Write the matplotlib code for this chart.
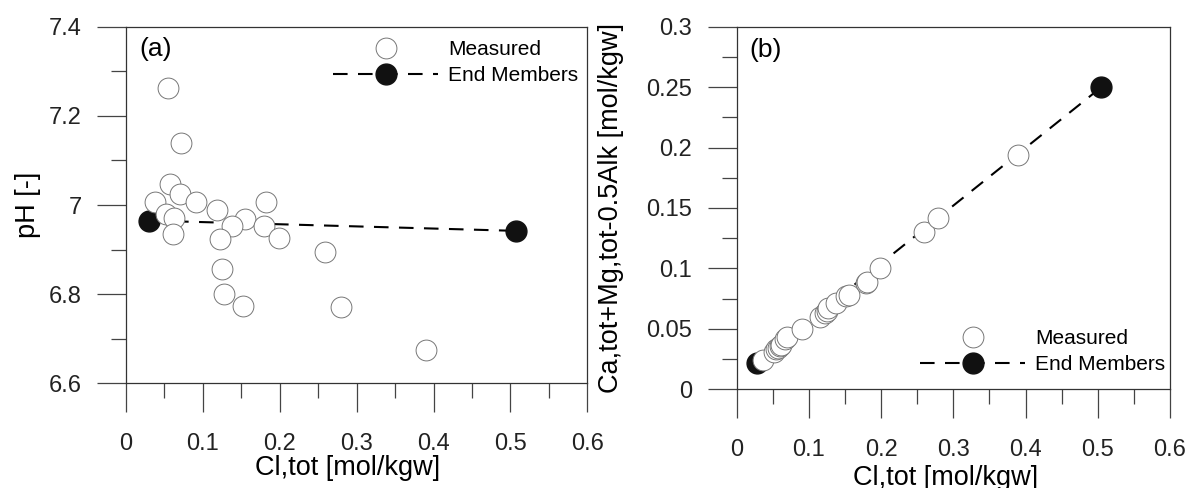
import matplotlib
matplotlib.use("Agg")
import matplotlib.pyplot as plt
from matplotlib.ticker import MultipleLocator

plt.rcParams["font.family"] = ["Liberation Sans", "DejaVu Sans"]

# Chloride concentration of each measured sample [mol/kgw]
cl_measured_a = [0.054, 0.071, 0.057, 0.070, 0.091, 0.038, 0.118, 0.182, 0.052, 0.062,
                 0.155, 0.138, 0.180, 0.061, 0.122, 0.199, 0.259, 0.125, 0.128, 0.152,
                 0.280, 0.390]
ph_measured = [7.262, 7.140, 7.048, 7.024, 7.006, 7.006, 6.989, 7.006, 6.979, 6.970,
               6.968, 6.953, 6.953, 6.936, 6.924, 6.925, 6.895, 6.856, 6.800, 6.774,
               6.771, 6.675]

# End members for panel (a)
cl_end_a = [0.030, 0.507]
ph_end = [6.965, 6.942]

# Panel (b): Ca,tot + Mg,tot - 0.5 Alk versus chloride
cl_measured_b = [0.037, 0.051, 0.054, 0.057, 0.060, 0.062, 0.067, 0.070, 0.090, 0.115,
                 0.122, 0.125, 0.127, 0.138, 0.152, 0.155, 0.179, 0.181, 0.198, 0.259,
                 0.279, 0.389]
camg_measured = [0.024, 0.031, 0.033, 0.034, 0.036, 0.037, 0.042, 0.043, 0.050, 0.060,
                 0.063, 0.065, 0.067, 0.071, 0.077, 0.078, 0.088, 0.089, 0.100, 0.130,
                 0.142, 0.194]
cl_end_b = [0.028, 0.505]
camg_end = [0.022, 0.250]

x_ticks = [0, 0.1, 0.2, 0.3, 0.4, 0.5, 0.6]
x_tick_labels = ["0", "0.1", "0.2", "0.3", "0.4", "0.5", "0.6"]
ph_ticks = [6.6, 6.8, 7.0, 7.2, 7.4]
ph_tick_labels = ["6.6", "6.8", "7", "7.2", "7.4"]
camg_ticks = [0, 0.05, 0.1, 0.15, 0.2, 0.25, 0.3]
camg_tick_labels = ["0", "0.05", "0.1", "0.15", "0.2", "0.25", "0.3"]

W, H = 1187, 488
fig = plt.figure(figsize=(W / 100, H / 100), dpi=100)

ax_a = fig.add_axes([126 / W, 1 - 383.3 / H, 461.3 / W, 356.6 / H])
ax_b = fig.add_axes([736.7 / W, 1 - 389.3 / H, 433.3 / W, 362.6 / H])

TICK_COLOR = "#444444"
TICK_SIZE = 17
AXLABEL_SIZE = 19.5
PANEL_SIZE = 19
LEGEND_SIZE = 15
MS = 15


def style_axes(ax):
    for sp in ax.spines.values():
        sp.set_linewidth(0.9)
        sp.set_color("#333333")
    ax.tick_params(which="both", direction="out", top=False, right=False,
                   color=TICK_COLOR, width=0.9, labelsize=TICK_SIZE,
                   labelcolor="#222222")
    ax.tick_params(which="major", length=21)
    ax.tick_params(which="minor", length=11)
    ax.tick_params(axis="x", which="major", pad=15)
    ax.tick_params(axis="y", which="major", pad=11)
    ax.set_xlim(0, 0.6)
    ax.set_xticks(x_ticks)
    ax.set_xticklabels(x_tick_labels)
    ax.xaxis.set_minor_locator(MultipleLocator(0.05))


def draw(ax, xe, ye, xm, ym):
    ax.plot(xe, ye, color="black", lw=1.5, dashes=(7, 5), marker="o",
            markersize=MS, markerfacecolor="#111111", markeredgecolor="#111111",
            label="End Members", zorder=2)
    ax.plot(xm, ym, linestyle="none", marker="o", markersize=MS,
            markerfacecolor="white", markeredgecolor="#777777",
            markeredgewidth=0.7, label="Measured", zorder=3)


def add_legend(ax, loc, anchor):
    h, l = ax.get_legend_handles_labels()
    ax.legend(h[::-1], l[::-1], loc=loc, bbox_to_anchor=anchor,
              frameon=False, fontsize=LEGEND_SIZE, handlelength=5.05,
              handletextpad=0.48, labelspacing=0.35, borderpad=0,
              borderaxespad=0)


# Panel (a)
style_axes(ax_a)
draw(ax_a, cl_end_a, ph_end, cl_measured_a, ph_measured)
ax_a.set_ylim(6.6, 7.4)
ax_a.set_yticks(ph_ticks)
ax_a.set_yticklabels(ph_tick_labels)
ax_a.yaxis.set_minor_locator(MultipleLocator(0.1))
ax_a.set_xlabel("Cl,tot [mol/kgw]", fontsize=AXLABEL_SIZE, va="center")
ax_a.xaxis.set_label_coords(0.481, -0.2375)
ax_a.set_ylabel("pH [-]", fontsize=AXLABEL_SIZE, va="center")
ax_a.yaxis.set_label_coords(-0.2124, 0.5)
ax_a.text(0.03, 0.972, "(a)", transform=ax_a.transAxes, fontsize=PANEL_SIZE,
          ha="left", va="top")
add_legend(ax_a, "upper left", (0.449, 0.963))

# Panel (b)
style_axes(ax_b)
draw(ax_b, cl_end_b, camg_end, cl_measured_b, camg_measured)
ax_b.set_ylim(0, 0.3)
ax_b.set_yticks(camg_ticks)
ax_b.set_yticklabels(camg_tick_labels)
ax_b.yaxis.set_minor_locator(MultipleLocator(0.025))
ax_b.set_xlabel("Cl,tot [mol/kgw]", fontsize=AXLABEL_SIZE, va="center")
ax_b.xaxis.set_label_coords(0.481, -0.2446)
ax_b.set_ylabel("Ca,tot+Mg,tot-0.5Alk [mol/kgw]", fontsize=AXLABEL_SIZE,
                va="center")
ax_b.yaxis.set_label_coords(-0.290, 0.5)
ax_b.text(0.029, 0.97, "(b)", transform=ax_b.transAxes, fontsize=PANEL_SIZE,
          ha="left", va="top")
add_legend(ax_b, "lower left", (0.423, 0.0414))

fig.savefig("out.png", dpi=100)
